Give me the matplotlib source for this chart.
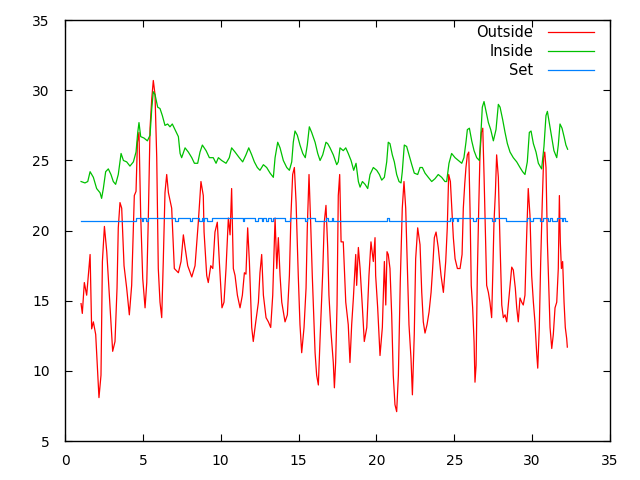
import numpy as np
import matplotlib.pyplot as plt

# Outside temperature (red)
out_x = [1.03, 1.11, 1.24, 1.39, 1.61, 1.71, 1.82, 1.97, 2.18, 2.31, 2.40, 2.53, 2.68, 2.78, 2.91,
         3.06, 3.21, 3.34, 3.42, 3.53, 3.64, 3.79, 3.96, 4.13, 4.28, 4.45, 4.56, 4.65, 4.75, 4.86,
         4.99, 5.14, 5.25, 5.35, 5.46, 5.57, 5.67, 5.78, 5.89, 5.99, 6.10, 6.21, 6.31, 6.42, 6.53,
         6.64, 6.85, 7.02, 7.28, 7.45, 7.60, 7.71, 7.88, 8.14, 8.35, 8.56, 8.73, 8.88, 8.93, 9.10,
         9.20, 9.36, 9.49, 9.63, 9.78, 9.91, 10.08, 10.21, 10.34, 10.49, 10.60, 10.70, 10.81, 10.92,
         11.07, 11.24, 11.39, 11.52, 11.62, 11.73, 11.84, 11.99, 12.09, 12.25, 12.42, 12.52, 12.63,
         12.74, 12.91, 13.06, 13.21, 13.34, 13.49, 13.60, 13.70, 13.81, 13.92, 14.13, 14.28, 14.41,
         14.51, 14.62, 14.73, 14.84, 14.98, 15.09, 15.20, 15.35, 15.48, 15.56, 15.67, 15.78, 15.88,
         16.06, 16.16, 16.27, 16.38, 16.55, 16.65, 16.76, 16.87, 16.95, 17.08, 17.23, 17.30, 17.38,
         17.47, 17.55, 17.64, 17.73, 17.87, 18.03, 18.19, 18.30, 18.41, 18.52, 18.67, 18.73, 18.84,
         18.95, 19.10, 19.22, 19.38, 19.52, 19.65, 19.80, 19.91, 19.95, 20.08, 20.23, 20.38, 20.51,
         20.60, 20.68, 20.76, 20.87, 20.98, 21.08, 21.19, 21.30, 21.41, 21.53, 21.66, 21.77, 21.88,
         21.99, 22.09, 22.22, 22.31, 22.43, 22.52, 22.65, 22.80, 22.91, 23.01, 23.12, 23.25, 23.38,
         23.51, 23.61, 23.72, 23.83, 23.97, 24.15, 24.30, 24.45, 24.55, 24.64, 24.75, 24.94, 25.05,
         25.20, 25.37, 25.50, 25.58, 25.67, 25.75, 25.84, 25.93, 26.01, 26.09, 26.18, 26.27, 26.33,
         26.40, 26.48, 26.57, 26.65, 26.74, 26.83, 26.91, 26.99, 27.08, 27.19, 27.29, 27.40, 27.47,
         27.55, 27.64, 27.72, 27.83, 27.94, 28.05, 28.15, 28.26, 28.37, 28.47, 28.58, 28.69, 28.79,
         28.92, 29.01, 29.11, 29.22, 29.33, 29.43, 29.54, 29.65, 29.75, 29.86, 29.97, 30.08, 30.18,
         30.29, 30.36, 30.46, 30.55, 30.65, 30.74, 30.81, 30.89, 30.98, 31.06, 31.15, 31.26, 31.36,
         31.47, 31.58, 31.68, 31.75, 31.81, 31.88, 31.96, 32.05, 32.13, 32.22, 32.26]
out_y = [14.8, 14.1, 16.3, 15.4, 18.3, 13.0, 13.5, 12.6, 8.1, 9.7, 17.8, 20.3, 18.5, 16.6, 14.0,
         11.4, 12.1, 15.9, 20.2, 22.0, 21.6, 17.5, 15.9, 14.0, 16.1, 22.5, 22.8, 26.3, 27.0, 21.1,
         16.6, 14.5, 16.3, 20.9, 27.3, 29.4, 30.7, 29.7, 25.2, 17.3, 14.9, 13.8, 17.8, 22.7, 24.0,
         22.7, 21.6, 17.3, 17.0, 17.8, 19.7, 18.8, 17.5, 16.7, 17.5, 20.6, 23.5, 22.5, 19.9, 16.8,
         16.3, 17.5, 17.3, 19.9, 20.6, 17.8, 14.5, 14.9, 17.3, 20.9, 19.7, 23.0, 17.3, 16.8,
         15.4, 14.5, 15.4, 17.0, 16.9, 20.2, 17.8, 13.1, 12.1, 13.5, 14.9, 17.0, 18.3,
         15.4, 13.8, 13.5, 13.1, 15.4, 20.9, 17.3, 19.5, 16.8, 14.9, 13.5, 14.0, 16.8,
         21.1, 24.0, 24.5, 22.0, 16.8, 13.3, 11.3, 13.1, 15.9, 20.2, 24.0, 20.4, 16.8,
         11.3, 9.7, 9.0, 12.3, 17.0, 20.6, 21.8, 18.8, 15.4, 12.8, 10.6, 8.8, 10.6,
         14.7, 22.5, 24.0, 19.2, 19.2, 14.9, 13.3, 10.6, 13.3, 15.2, 18.3, 16.1, 18.8,
         17.3, 14.5, 12.1, 13.1, 16.8, 19.2, 17.8, 19.5, 16.8, 14.5, 11.1, 13.1, 17.8,
         14.7, 18.5, 18.3, 17.3, 14.0, 9.7, 7.6, 7.1, 9.7, 16.3, 21.6, 23.5, 21.6,
         17.3, 13.3, 10.9, 8.3, 12.6, 18.0, 20.2, 19.0, 15.6, 13.5, 12.7, 13.3, 14.2,
         15.6, 17.3, 19.5, 19.9, 18.8, 16.8, 15.6, 17.8, 20.2, 24.0, 23.5, 19.5, 18.0,
         17.3, 17.3, 18.3, 21.6, 23.3, 24.5, 25.4, 25.6, 21.6, 16.1, 14.5, 12.1, 9.2,
         10.4, 16.8, 21.6, 25.4, 27.0, 27.3, 24.0, 20.4, 16.1, 15.6, 14.9, 13.8, 16.8,
         20.6, 22.7, 25.4, 23.8, 19.0, 14.7, 13.8, 14.0, 13.5, 14.7, 16.1, 17.4, 17.2,
         15.9, 14.5, 13.5, 15.2, 14.9, 14.7, 15.4, 19.7, 23.0, 21.1, 16.8, 14.9, 13.5,
         11.3, 10.2, 13.1, 17.8, 22.0, 25.2, 25.6, 24.5, 19.2, 16.3, 13.1, 11.6, 12.6,
         14.5, 14.9, 17.3, 22.5, 19.2, 17.3, 17.8, 14.9, 13.1, 12.3, 11.7]

# Inside temperature (green)
in_x = [1.03, 1.28, 1.46, 1.61, 1.82, 2.03, 2.25, 2.35, 2.46, 2.61, 2.78, 2.95, 3.10, 3.25, 3.42,
        3.60, 3.75, 3.96, 4.17, 4.39, 4.56, 4.67, 4.75, 4.86, 5.07, 5.29, 5.46, 5.57, 5.67, 5.78,
        5.95, 6.10, 6.25, 6.42, 6.59, 6.74, 6.89, 7.06, 7.28, 7.39, 7.49, 7.71, 7.92, 8.14, 8.31,
        8.52, 8.67, 8.82, 9.06, 9.27, 9.52, 9.70, 9.85, 10.06, 10.34, 10.55, 10.70, 10.92, 11.19,
        11.41, 11.62, 11.80, 11.99, 12.16, 12.35, 12.52, 12.74, 12.95, 13.17, 13.38, 13.49, 13.66,
        13.81, 14.02, 14.24, 14.41, 14.56, 14.66, 14.77, 14.92, 15.09, 15.27, 15.43, 15.56, 15.69,
        15.84, 16.06, 16.23, 16.38, 16.55, 16.76, 16.87, 17.02, 17.23, 17.45, 17.55, 17.66, 17.87,
        18.03, 18.19, 18.37, 18.54, 18.69, 18.84, 18.95, 19.10, 19.27, 19.44, 19.59, 19.80, 20.02,
        20.19, 20.34, 20.51, 20.66, 20.76, 20.87, 21.02, 21.15, 21.30, 21.45, 21.58, 21.66, 21.79,
        21.94, 22.09, 22.27, 22.43, 22.65, 22.80, 22.95, 23.12, 23.33, 23.55, 23.76, 23.97, 24.19,
        24.40, 24.51, 24.66, 24.83, 25.05, 25.26, 25.48, 25.62, 25.75, 25.84, 25.97, 26.12, 26.27,
        26.44, 26.61, 26.70, 26.80, 26.91, 27.04, 27.19, 27.34, 27.51, 27.68, 27.83, 27.94, 28.11,
        28.26, 28.41, 28.58, 28.79, 29.01, 29.22, 29.39, 29.54, 29.69, 29.82, 29.93, 30.08, 30.25,
        30.40, 30.61, 30.76, 30.89, 30.98, 31.10, 31.26, 31.40, 31.58, 31.68, 31.79, 31.92, 32.05,
        32.17, 32.28]
in_y = [23.5, 23.4, 23.5, 24.2, 23.8, 23.0, 22.7, 22.3, 23.0, 24.2, 24.4, 24.0, 23.5, 23.3, 24.0,
        25.5, 25.0, 24.9, 24.6, 24.9, 25.6, 27.0, 27.7, 26.7, 26.6, 26.4, 26.8, 28.7, 29.9, 29.7,
        28.8, 28.7, 28.2, 27.5, 27.6, 27.4, 27.6, 27.2, 26.7, 25.5, 25.2, 25.9, 25.6, 25.2, 24.8,
        24.8, 25.6, 26.1, 25.7, 25.2, 25.2, 24.8, 25.2, 25.0, 24.8, 25.2, 25.9, 25.6, 25.2,
        24.9, 25.4, 25.9, 25.4, 24.9, 24.5, 24.3, 24.7, 24.5, 24.1, 23.8, 25.2, 26.3,
        25.9, 25.0, 24.5, 24.3, 24.9, 26.3, 27.1, 26.8, 26.1, 25.5, 25.2, 26.1, 27.4,
        27.0, 26.3, 25.5, 25.0, 25.4, 26.3, 26.2, 25.9, 25.4, 24.7, 24.9, 25.9, 25.7,
        25.9, 25.5, 25.0, 24.3, 24.8, 23.5, 23.1, 23.5, 23.3, 23.0, 24.0, 24.5, 24.3,
        24.0, 23.6, 23.8, 24.9, 26.3, 26.2, 25.4, 24.9, 24.0, 23.5, 23.4, 24.2, 26.1,
        26.0, 25.4, 24.7, 24.1, 24.0, 24.5, 24.5, 24.1, 23.8, 23.5, 23.7, 24.0, 23.8,
        23.5, 23.5, 24.8, 25.5, 25.2, 25.0, 24.8, 25.2, 26.3, 27.2, 27.3, 26.4, 25.7,
        25.2, 25.0, 26.7, 28.8, 29.2, 28.5, 27.7, 27.2, 26.4, 27.2, 29.0, 28.8, 27.9,
        27.0, 26.2, 25.6, 25.2, 24.9, 24.5, 24.2, 24.0, 24.9, 27.0, 27.1, 26.2, 25.6,
        24.8, 24.4, 26.0, 28.2, 28.5, 27.7, 26.6, 25.7, 25.2, 26.1, 27.6, 27.3, 26.7,
        26.1, 25.8]

# Set point (blue), step changes
set_x = [1.03, 4.56, 4.95, 5.01, 5.20, 5.33, 7.06, 7.26, 8.03, 8.16, 8.61, 8.80, 8.86, 8.93,
         9.12, 9.44, 11.43, 11.50, 12.20, 12.39, 12.65, 12.72, 12.91, 13.04, 13.23, 13.36,
         14.13, 14.45, 15.41, 15.54, 16.06, 16.76, 16.89, 17.15, 17.21, 20.68, 20.81, 24.73,
         24.85, 24.92, 25.17, 25.24, 26.20, 26.40, 27.42, 27.62, 28.32, 29.67, 29.86, 30.06,
         30.50, 30.70, 31.02, 31.15, 31.28, 31.60, 31.92, 31.98, 32.11, 32.26]
set_lo, set_hi = 20.68, 20.87
set_y = [set_lo] + [set_hi, set_lo] * 29 + [set_lo]

fig = plt.figure(figsize=(6.4, 4.8), dpi=100)
ax = fig.add_axes([0.1016, 0.081, 0.8515, 0.877])

ax.plot(out_x, out_y, color='#ff0000', linewidth=0.9, label='Outside')
ax.plot(in_x, in_y, color='#00c000', linewidth=0.9, label='Inside')
ax.plot(set_x, set_y, color='#0080ff', linewidth=0.9, drawstyle='steps-post', label='Set')

ax.set_xlim(0, 35)
ax.set_ylim(5, 35)
ax.set_xticks(np.arange(0, 36, 5))
ax.set_yticks(np.arange(5, 36, 5))
ax.tick_params(direction='in', length=5, width=0.8, top=True, right=True,
               labelsize=10, pad=9)
ax.tick_params(axis='y', pad=11)
for s in ax.spines.values():
    s.set_linewidth(1.0)

ax.legend(loc='upper right', frameon=False, markerfirst=False, fontsize=10.5,
          handlelength=3.2, handletextpad=1.0, labelspacing=0.25,
          borderaxespad=0.3, bbox_to_anchor=(0.99, 1.012))

plt.savefig('out.png', dpi=100)
